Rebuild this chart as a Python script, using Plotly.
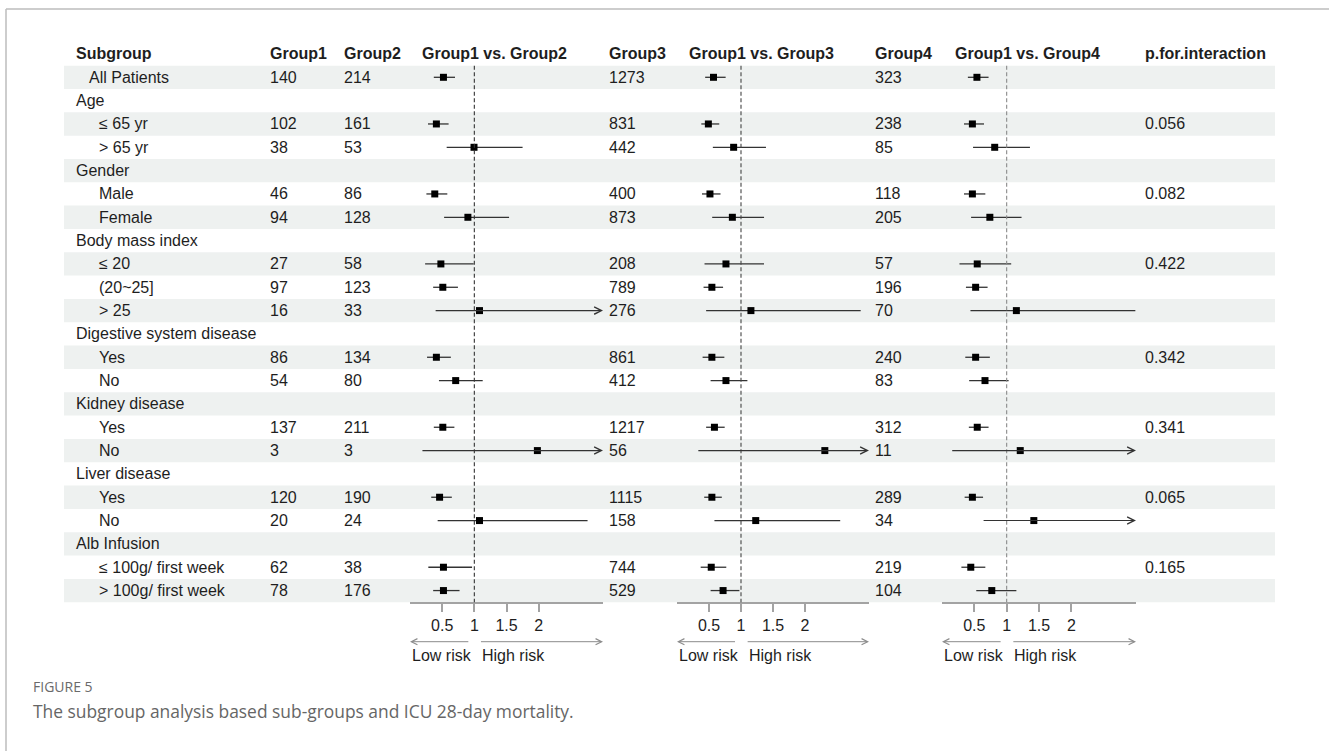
import plotly.graph_objects as go

W, H = 1329, 751

# ---------------- data ----------------
labels = ["All Patients", "Age", "≤ 65 yr", "> 65 yr", "Gender", "Male", "Female",
          "Body mass index", "≤ 20", "(20~25]", "> 25", "Digestive system disease", "Yes", "No",
          "Kidney disease", "Yes", "No", "Liver disease", "Yes", "No", "Alb Infusion",
          "≤ 100g/ first week", "> 100g/ first week"]
levels = [1, 0, 2, 2, 0, 2, 2, 0, 2, 2, 2, 0, 2, 2, 0, 2, 2, 0, 2, 2, 0, 2, 2]

group1 = ["140", "", "102", "38", "", "46", "94", "", "27", "97", "16", "", "86", "54", "",
          "137", "3", "", "120", "20", "", "62", "78"]
group2 = ["214", "", "161", "53", "", "86", "128", "", "58", "123", "33", "", "134", "80", "",
          "211", "3", "", "190", "24", "", "38", "176"]
group3 = ["1273", "", "831", "442", "", "400", "873", "", "208", "789", "276", "", "861", "412", "",
          "1217", "56", "", "1115", "158", "", "744", "529"]
group4 = ["323", "", "238", "85", "", "118", "205", "", "57", "196", "70", "", "240", "83", "",
          "312", "11", "", "289", "34", "", "219", "104"]
p_interaction = ["", "", "0.056", "", "", "0.082", "", "", "0.422", "", "", "", "0.342", "", "",
                 "0.341", "", "", "0.065", "", "", "0.165", ""]

OFF = None  # upper limit beyond the axis (drawn as arrow)

g12_est = [0.52, None, 0.41, 0.995, None, 0.385, 0.90, None, 0.48, 0.51, 1.08, None, 0.41, 0.71,
           None, 0.51, 1.98, None, 0.46, 1.08, None, 0.52, 0.52]
g12_lo = [0.37, None, 0.28, 0.57, None, 0.255, 0.53, None, 0.235, 0.36, 0.375, None, 0.265, 0.45,
          None, 0.37, 0.17, None, 0.33, 0.43, None, 0.285, 0.36]
g12_hi = [0.70, None, 0.60, 1.75, None, 0.58, 1.54, None, 0.99, 0.745, OFF, None, 0.635, 1.13,
          None, 0.69, OFF, None, 0.65, 2.76, None, 0.965, 0.77]

g13_est = [0.57, None, 0.49, 0.885, None, 0.515, 0.865, None, 0.765, 0.545, 1.155, None, 0.545, 0.765,
           None, 0.585, 2.31, None, 0.545, 1.23, None, 0.535, 0.72]
g13_lo = [0.44, None, 0.38, 0.56, None, 0.39, 0.55, None, 0.43, 0.415, 0.455, None, 0.40, 0.525,
          None, 0.455, 0.31, None, 0.425, 0.585, None, 0.37, 0.525]
g13_hi = [0.76, None, 0.66, 1.39, None, 0.68, 1.36, None, 1.36, 0.72, 2.87, None, 0.74, 1.10,
          None, 0.745, OFF, None, 0.70, 2.55, None, 0.77, 0.975]

g14_est = [0.54, None, 0.47, 0.815, None, 0.47, 0.74, None, 0.545, 0.52, 1.15, None, 0.52, 0.665,
           None, 0.545, 1.21, None, 0.47, 1.42, None, 0.445, 0.77]
g14_lo = [0.40, None, 0.34, 0.48, None, 0.34, 0.45, None, 0.27, 0.37, 0.44, None, 0.36, 0.42,
          None, 0.415, 0.135, None, 0.35, 0.62, None, 0.30, 0.53]
g14_hi = [0.72, None, 0.65, 1.36, None, 0.67, 1.23, None, 1.07, 0.705, 2.99, None, 0.74, 1.03,
          None, 0.72, OFF, None, 0.635, OFF, None, 0.67, 1.15]

col_headers = ["Subgroup", "Group1", "Group2", "Group1 vs. Group2", "Group3",
               "Group1 vs. Group3", "Group4", "Group1 vs. Group4", "p.for.interaction"]
tick_vals = [0.5, 1, 1.5, 2]
tick_text = ["0.5", "1", "1.5", "2"]
XMAX = 3

# ---------------- layout helpers ----------------
ROW0 = 77.3    # pixel centre of first row
ROW_H = 23.33  # pixel row height
N = len(labels)


def py(p):
    return (p - ROW0) / ROW_H


def px(p):
    return p / W


FONT = "Liberation Sans, Arial, sans-serif"
TXT = "#1e1e1e"

panels = [
    dict(ax="x", dom=(410, 603), est=g12_est, lo=g12_lo, hi=g12_hi, dash="#333333"),
    dict(ax="x2", dom=(677, 869), est=g13_est, lo=g13_lo, hi=g13_hi, dash="#444444"),
    dict(ax="x3", dom=(942, 1136), est=g14_est, lo=g14_lo, hi=g14_hi, dash="#8a8a8a"),
]

fig = go.Figure()
shapes = []
annotations = []

# stripes
for i in range(0, N, 2):
    shapes.append(dict(type="rect", xref="paper", yref="y", x0=px(64), x1=px(1275),
                       y0=i - 0.5, y1=i + 0.5, fillcolor="#eef1f0", line=dict(width=0),
                       layer="below"))

# frame
shapes.append(dict(type="line", xref="paper", yref="paper", x0=px(6), x1=1, y0=1 - 9 / H, y1=1 - 9 / H,
                   line=dict(color="#bdbdbd", width=1.5)))
shapes.append(dict(type="line", xref="paper", yref="paper", x0=px(6), x1=px(6), y0=0, y1=1 - 9 / H,
                   line=dict(color="#bdbdbd", width=1.5)))

# headers
header_x = [74, 268.3, 341.7, 410 + 10, 607, 677 + 10, 873.3, 942 + 11, 1143.3]
for t, xx in zip(col_headers, header_x):
    annotations.append(dict(text="<b>" + t + "</b>", x=px(xx), y=-1, xref="paper", yref="y",
                            xanchor="left", yanchor="middle", showarrow=False,
                            font=dict(family=FONT, size=16, color=TXT)))

# row labels and numeric columns
indent = {0: 74, 1: 87.3, 2: 96.7}
for i in range(N):
    annotations.append(dict(text=labels[i], x=px(indent[levels[i]]), y=i, xref="paper", yref="y",
                            xanchor="left", yanchor="middle", showarrow=False,
                            font=dict(family=FONT, size=16, color=TXT)))
    for col, xx in [(group1, 268.3), (group2, 341.7), (group3, 607), (group4, 873.3),
                    (p_interaction, 1143.3)]:
        if col[i]:
            annotations.append(dict(text=col[i], x=px(xx), y=i, xref="paper", yref="y",
                                    xanchor="left", yanchor="middle", showarrow=False,
                                    font=dict(family=FONT, size=16, color=TXT)))

axis_y_px = 602.7
for k, p in enumerate(panels):
    ax = p["ax"]
    lx, ly = [], []
    mx, my = [], []
    for i in range(N):
        if p["est"][i] is None:
            continue
        mx.append(p["est"][i])
        my.append(i)
        if p["hi"][i] is None:
            annotations.append(dict(text="", x=XMAX, y=i, ax=p["lo"][i], ay=i, xref=ax, yref="y",
                                    axref=ax, ayref="y", showarrow=True, arrowhead=5,
                                    arrowsize=1.3, arrowwidth=1.1, arrowcolor="#333333",
                                    standoff=0))
        else:
            lx += [p["lo"][i], p["hi"][i], None]
            ly += [i, i, None]
    fig.add_trace(go.Scatter(x=lx, y=ly, xaxis=ax, yaxis="y", mode="lines",
                             line=dict(color="#333333", width=1.3), hoverinfo="skip",
                             showlegend=False))
    fig.add_trace(go.Scatter(x=mx, y=my, xaxis=ax, yaxis="y", mode="markers",
                             marker=dict(symbol="square", size=7, color="#000000"),
                             showlegend=False, cliponaxis=False))
    # reference line at 1
    shapes.append(dict(type="line", xref=ax, yref="y", x0=1, x1=1, y0=-0.5, y1=N - 0.5,
                       line=dict(color=p["dash"], width=1.1, dash="4px,2.5px")))
    # low / high risk arrows
    ya = py(641.7)
    annotations.append(dict(text="", x=0, y=ya, ax=0.93, ay=ya, xref=ax, yref="y", axref=ax,
                            ayref="y", showarrow=True, arrowhead=5, arrowsize=1.2, arrowwidth=1,
                            arrowcolor="#8c8c8c", standoff=0))
    annotations.append(dict(text="", x=XMAX, y=ya, ax=1.08, ay=ya, xref=ax, yref="y", axref=ax,
                            ayref="y", showarrow=True, arrowhead=5, arrowsize=1.2, arrowwidth=1,
                            arrowcolor="#8c8c8c", standoff=0))
    annotations.append(dict(text="Low risk", x=0, y=py(655.5), xref=ax, yref="y", xanchor="left",
                            yanchor="middle", showarrow=False,
                            font=dict(family=FONT, size=16, color=TXT)))
    annotations.append(dict(text="High risk", x=1.09, y=py(655.5), xref=ax, yref="y",
                            xanchor="left", yanchor="middle", showarrow=False,
                            font=dict(family=FONT, size=16, color=TXT)))

# caption
annotations.append(dict(text="FIGURE 5", x=px(31), y=1 - 686 / H, xref="paper", yref="paper",
                        xanchor="left", yanchor="middle", showarrow=False,
                        font=dict(family="Open Sans, sans-serif", size=14, color="#6a6a6a")))
annotations.append(dict(text="The subgroup analysis based sub-groups and ICU 28-day mortality.",
                        x=px(31), y=1 - 711 / H, xref="paper", yref="paper",
                        xanchor="left", yanchor="middle", showarrow=False,
                        font=dict(family="Open Sans, sans-serif", size=17.4, color="#666666")))

axis_common = dict(range=[0, XMAX], anchor="free", position=1 - axis_y_px / H, showline=True,
                   linecolor="#a3a3a3", linewidth=2, ticks="outside", tickvals=tick_vals,
                   ticktext=tick_text, ticklen=8, tickwidth=1.5, tickcolor="#a3a3a3",
                   tickfont=dict(family=FONT, size=16, color=TXT), showgrid=False,
                   zeroline=False, fixedrange=True)

layout_axes = {}
for k, p in enumerate(panels):
    name = "xaxis" if k == 0 else "xaxis%d" % (k + 1)
    d = dict(axis_common)
    d["domain"] = [px(p["dom"][0]), px(p["dom"][1])]
    layout_axes[name] = d

fig.update_layout(
    width=W, height=H,
    margin=dict(l=0, r=0, t=0, b=0),
    paper_bgcolor="white", plot_bgcolor="rgba(0,0,0,0)",
    yaxis=dict(domain=[0, 1], range=[py(H), py(0)], visible=False, fixedrange=True),
    shapes=shapes, annotations=annotations, showlegend=False,
    **layout_axes,
)

fig.write_html("out.html", config={"displayModeBar": False},
               post_script="document.body.style.margin='0';document.body.style.overflow='hidden';")
